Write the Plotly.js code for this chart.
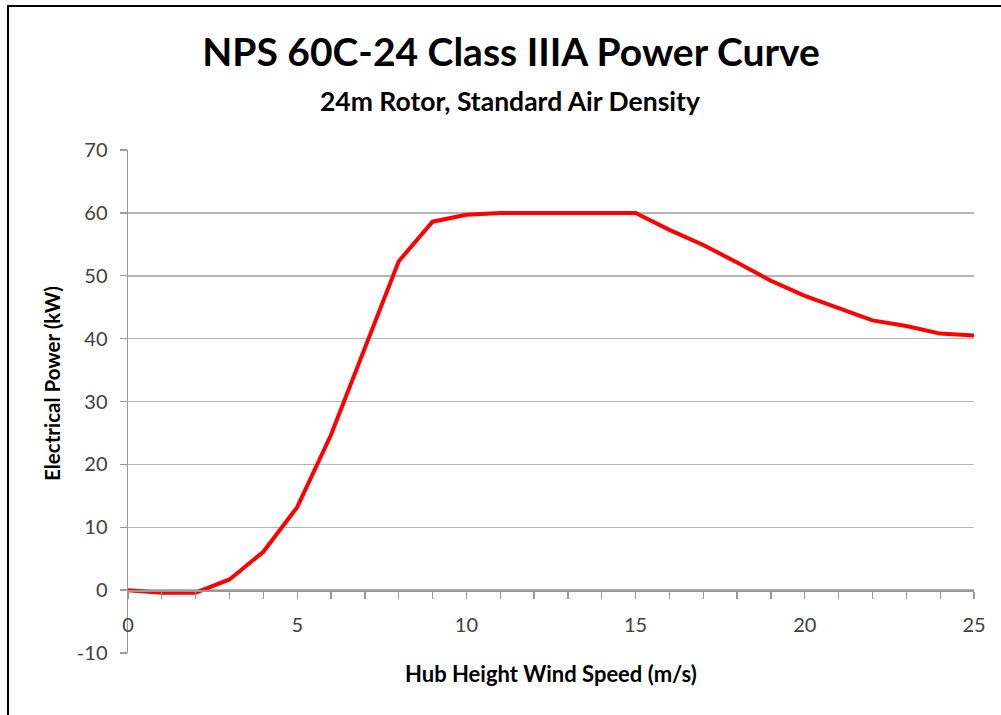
<!DOCTYPE html>
<html>
<head>
<meta charset="utf-8">
<script src="https://cdn.plot.ly/plotly-3.0.1.min.js"></script>
<style>
  html, body { margin: 0; padding: 0; background: #ffffff; }
  #chart { width: 1001px; height: 715px; }
</style>
</head>
<body>
<div id="chart"></div>
<script>
// Data
const windSpeed = [0, 1, 2, 3, 4, 5, 6, 7, 8, 9, 10, 11, 12, 13, 14, 15, 16, 17, 18, 19, 20, 21, 22, 23, 24, 25];
const powerKW = [0, -0.4, -0.4, 1.7, 6.1, 13.2, 24.7, 38.5, 52.3, 58.6, 59.7, 60, 60, 60, 60, 60, 57.3, 54.9, 52.1, 49.2, 46.8, 44.9, 42.9, 42.0, 40.8, 40.5];
const xTickVals = [0, 5, 10, 15, 20, 25];
const yTickVals = [-10, 0, 10, 20, 30, 40, 50, 60, 70];
const yTickText = ["-10", "0", "10", "20", "30", "40", "50", "60", "70"];
const titleText = "NPS 60C-24 Class IIIA Power Curve";
const subtitleText = "24m Rotor, Standard Air Density";
const xTitle = "Hub Height Wind Speed (m/s)";
const yTitle = "Electrical Power (kW)";

const FONT = "Lato, 'Open Sans', sans-serif";

const trace = {
  x: windSpeed,
  y: powerKW,
  type: "scatter",
  mode: "lines",
  line: { color: "#ff0000", width: 4 },
  hoverinfo: "x+y",
  showlegend: false
};

const layout = {
  width: 1001,
  height: 715,
  margin: { l: 128, r: 27, t: 150, b: 62 },
  paper_bgcolor: "#ffffff",
  plot_bgcolor: "#ffffff",
  font: { family: FONT, color: "#404040" },
  showlegend: false,
  title: {
    text: titleText,
    font: { family: FONT, size: 39, color: "#000000", weight: "bold" },
    x: 0.5105, xref: "container", xanchor: "center",
    y: 1 - 52 / 715, yref: "container", yanchor: "middle"
  },
  xaxis: {
    range: [0, 25],
    anchor: "free",
    position: 63 / 503,
    tickmode: "array",
    tickvals: xTickVals,
    ticks: "outside",
    ticklen: 7,
    tickcolor: "#999999",
    tickwidth: 1.3,
    ticklabelstandoff: 9,
    minor: { dtick: 1, ticks: "outside", ticklen: 7, tickcolor: "#999999", tickwidth: 1.3, showgrid: false },
    showline: true,
    linecolor: "#999999",
    linewidth: 1.5,
    showgrid: false,
    zeroline: false,
    tickfont: { family: FONT, size: 20, color: "#404040" },
    fixedrange: true
  },
  yaxis: {
    range: [-10, 70],
    tickmode: "array",
    tickvals: yTickVals,
    ticktext: yTickText,
    ticks: "outside",
    ticklen: 7,
    tickcolor: "#999999",
    tickwidth: 1.3,
    ticklabelstandoff: 8,
    showline: true,
    linecolor: "#999999",
    linewidth: 1.5,
    showgrid: true,
    gridcolor: "#b5b5b5",
    gridwidth: 1.5,
    zeroline: false,
    tickfont: { family: FONT, size: 20, color: "#404040" },
    fixedrange: true
  },
  annotations: [
    {
      text: subtitleText,
      xref: "paper", yref: "paper",
      x: (510 - 128) / 846, y: (653 - 101) / 503,
      xanchor: "center", yanchor: "middle",
      showarrow: false,
      font: { family: FONT, size: 26.5, color: "#000000", weight: "bold" }
    },
    {
      text: xTitle,
      xref: "paper", yref: "paper",
      x: 0.5, y: (653 - 673) / 503,
      xanchor: "center", yanchor: "middle",
      showarrow: false,
      font: { family: FONT, size: 22, color: "#000000", weight: "bold" }
    },
    {
      text: yTitle,
      xref: "paper", yref: "paper",
      x: (52 - 128) / 846, y: (653 - 384) / 503,
      xanchor: "center", yanchor: "middle",
      textangle: -90,
      showarrow: false,
      font: { family: FONT, size: 20.5, color: "#000000", weight: "bold" }
    }
  ],
  shapes: [
    {
      type: "rect",
      xref: "paper", yref: "paper",
      x0: (8 - 128) / 846, x1: (1040 - 128) / 846,
      y0: (653 - 760) / 503, y1: (653 - 6) / 503,
      line: { color: "#000000", width: 2 },
      fillcolor: "rgba(0,0,0,0)",
      layer: "above"
    }
  ]
};

Plotly.newPlot("chart", [trace], layout, { displayModeBar: false, staticPlot: true });
</script>
</body>
</html>
